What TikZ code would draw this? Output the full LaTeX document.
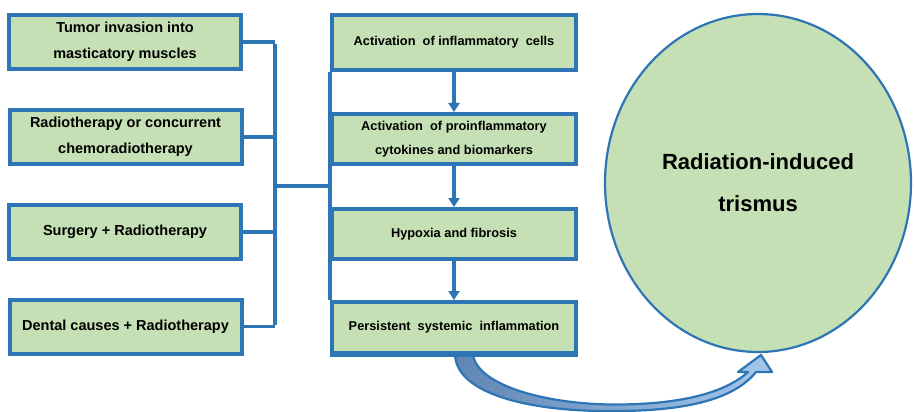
\documentclass[tikz,border=0pt]{standalone}
\usepackage{fontspec}
\setmainfont{Liberation Sans}
\usetikzlibrary{arrows.meta,shapes.geometric}
\definecolor{boxgreen}{HTML}{C5E0B4}
\definecolor{boxblue}{HTML}{2E75B6}
\definecolor{arrdark}{HTML}{5F86B4}
\definecolor{arrlight}{HTML}{A4C8EC}
\begin{document}
\begin{tikzpicture}[x=1pt,y=-1pt,
  leftbox/.style={draw=boxblue,line width=4pt,fill=boxgreen,rectangle,
    minimum width=232pt,minimum height=54pt,inner sep=0pt,align=center,
    font=\fontsize{14.5}{26}\selectfont\bfseries},
  midbox/.style={draw=boxblue,line width=4pt,fill=boxgreen,rectangle,
    minimum width=244pt,minimum height=50pt,inner sep=0pt,align=center,
    font=\fontsize{12.8}{24}\selectfont\bfseries},
  link/.style={draw=boxblue,line width=3.5pt},
  flow/.style={draw=boxblue,line width=3.5pt,-{Triangle[width=11pt,length=9pt]}}]
\useasboundingbox (0,0) rectangle (914,412);
% left boxes
\node[leftbox] (L1) at (125,42) {Tumor invasion into\\masticatory muscles};
\node[leftbox] (L2) at (125.5,137) {Radiotherapy or concurrent\\chemoradiotherapy};
\node[leftbox] (L3) at (125,232) {Surgery + Radiotherapy};
\node[leftbox] (L4) at (125.5,326.5) {Dental causes + Radiotherapy};
% middle boxes
\node[midbox,minimum height=55pt] (M1) at (454,42.5) {Activation\ \ of inflammatory\ \ cells};
\node[midbox] (M2) at (454,139) {Activation\ \ of proinflammatory\\cytokines and biomarkers};
\node[midbox] (M3) at (454,234) {Hypoxia and fibrosis};
\node[midbox,minimum height=51pt] (M4) at (454,327.5) {Persistent\ \ systemic\ \ inflammation};
% outcome ellipse
\node[ellipse,draw=boxblue,line width=2.2pt,fill=boxgreen,minimum width=306pt,minimum height=338pt,
  inner sep=0pt,align=center,font=\fontsize{22}{42}\selectfont\bfseries] (E) at (758,183)
  {Radiation-induced\\trismus};
% bus connectors
\coordinate (btop) at (275,42);
\coordinate (bbot) at (275,326.5);
\coordinate (j) at (275,186);
\draw[link] (L1.east) -- (L1.east -| btop);
\draw[link] (L2.east) -- (L2.east -| btop);
\draw[link] (L3.east) -- (L3.east -| btop);
\draw[link] (L4.east) -- (L4.east -| btop);
\draw[link] ([yshift=-1.75pt]btop) -- ([yshift=1.75pt]bbot);
\draw[link] (j) -- (j -| M1.west);
\draw[link] (M1.south west) -- (M4.north west);
% flow arrows
\draw[flow] (M1.south) -- (M2.north);
\draw[flow] (M2.south) -- (M3.north);
\draw[flow] (M3.south) -- (M4.north);
% curved block arrow
\coordinate (a0) at (455,355);
\coordinate (a1) at (473,355);
\coordinate (tip) at (761,355);
\path[draw=boxblue,line width=2.2pt,line join=round,left color=arrdark,right color=arrlight]
  (a0) .. controls (457,394) and (530,412) .. (615,411)
  .. controls (690,411) and (735,398) .. (756,372)
  -- (772,372) -- (tip) -- (738,372) -- (748,372)
  .. controls (725,393) and (680,404.5) .. (615,404.5)
  .. controls (548,404.5) and (478,386) .. (a1) -- cycle;
\draw[boxblue,line width=4pt] (M4.south west) -- (M4.south east);
\end{tikzpicture}
\end{document}
